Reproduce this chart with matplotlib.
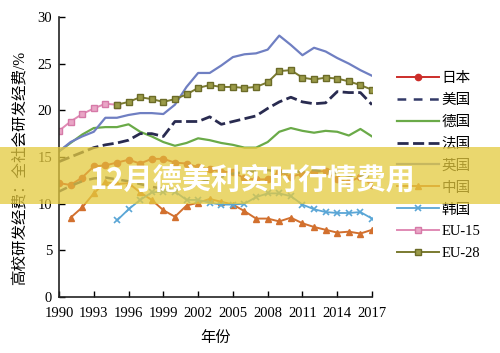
import numpy as np
import matplotlib
matplotlib.use("Agg")
import matplotlib.pyplot as plt
from matplotlib.patches import Rectangle

plt.rcParams['font.family'] = ['Liberation Serif', 'Noto Sans CJK SC', 'DejaVu Sans']

# DATA
years = list(range(1990, 2018))
years_china = list(range(1991, 2018))
years_korea = list(range(1995, 2018))
years_eu15 = list(range(1990, 1996))
years_eu28 = list(range(1995, 2018))

japan = [12.2, 12.0, 12.8, 14.0, 14.1, 14.4, 14.7, 14.3, 14.8, 14.8, 14.4, 14.3,
         13.9, 13.7, 13.4, 13.4, 12.7, 12.6, 12.6, 13.4, 12.9, 13.2, 13.4, 13.5,
         12.6, 12.3, 12.9, 12.0]
usa = [11.3, 11.9, 12.4, 12.7, 12.8, 12.6, 12.4, 12.1, 11.8, 11.6, 11.4, 11.6,
       12.2, 12.6, 12.9, 13.2, 13.4, 13.5, 13.6, 13.4, 13.3, 13.5, 13.6, 13.4,
       13.3, 13.0, 13.0, 12.9]
germany = [15.6, 16.5, 17.4, 18.1, 18.2, 18.2, 18.5, 17.7, 17.2, 16.6, 16.2, 16.5,
           17.0, 16.8, 16.5, 16.3, 16.0, 16.0, 16.6, 17.7, 18.1, 17.8, 17.6, 17.8,
           17.7, 17.3, 18.0, 17.2]
france = [14.5, 15.0, 15.5, 16.0, 16.3, 16.5, 16.8, 17.5, 17.5, 17.2, 18.8, 18.8,
          18.8, 19.3, 18.5, 18.8, 19.1, 19.4, 20.2, 20.9, 21.4, 20.9, 20.7, 20.8,
          22.0, 21.9, 21.9, 20.6]
uk = [15.6, 16.6, 17.2, 17.7, 19.2, 19.2, 19.5, 19.7, 19.7, 19.6, 20.6, 22.5,
      24.0, 24.0, 24.8, 25.7, 26.0, 26.1, 26.5, 28.0, 27.0, 25.9, 26.7, 26.3,
      25.6, 25.0, 24.3, 23.7]
china = [8.5, 9.6, 11.1, 12.3, 12.1, 12.2, 11.2, 10.4, 9.3, 8.6, 9.8,
         10.1, 10.5, 10.2, 9.9, 9.2, 8.4, 8.4, 8.1, 8.5, 7.9, 7.5, 7.2,
         6.9, 7.0, 6.8, 7.2]
korea = [8.2, 9.4, 10.4, 11.2, 11.3, 11.3, 10.4, 10.4, 10.1, 9.9, 9.9, 10.0,
         10.7, 11.1, 11.1, 10.8, 9.9, 9.4, 9.1, 9.0, 9.0, 9.1, 8.4]
eu15 = [17.8, 18.8, 19.6, 20.2, 20.7, 20.6]
eu28 = [20.6, 20.9, 21.4, 21.2, 20.9, 21.2, 21.7, 22.4, 22.7, 22.5, 22.5, 22.4,
        22.5, 23.0, 24.2, 24.3, 23.5, 23.3, 23.5, 23.4, 23.1, 22.7, 22.2]

xticks = list(range(1990, 2018, 3))
yticks = [0, 5, 10, 15, 20, 25, 30]

fig = plt.figure(figsize=(5.0, 3.53), dpi=100)
ax = fig.add_axes([0.118, 0.1586, 0.626, 0.7934])

ax.plot(years, japan, color='#cc2e2a', lw=1.4, marker='o', ms=4.5, label='日本')
ax.plot(years, usa, color='#333a68', lw=1.8, dashes=(3.5, 3), label='美国')
ax.plot(years, germany, color='#6aaa48', lw=1.6, label='德国')
ax.plot(years, france, color='#292b50', lw=2.0, dashes=(4, 1.6), label='法国')
ax.plot(years, uk, color='#6f7fc2', lw=1.6, label='英国')
ax.plot(years_china, china, color='#d2702e', lw=1.4, marker='^', ms=5, label='中国')
ax.plot(years_korea, korea, color='#5aa6d6', lw=1.3, marker='x', ms=4.5, mew=1.2, label='韩国')
ax.plot(years_eu15, eu15, color='#e08ab4', lw=1.4, marker='s', ms=4.5,
        mfc='#e9a6c6', mec='#d67aa8', label='EU-15')
ax.plot(years_eu28, eu28, color='#7a7a30', lw=1.4, marker='s', ms=5,
        mfc='#9a9a48', mec='#6b6b28', label='EU-28')

ax.set_xlim(1990, 2017)
ax.set_ylim(0, 30)
ax.set_xticks(xticks)
ax.set_yticks(yticks)
ax.tick_params(direction='in', length=4, width=1, labelsize=10.5)
ax.tick_params(axis='x', pad=7)
ax.tick_params(axis='y', pad=5)
for s in ['top', 'right']:
    ax.spines[s].set_visible(False)
for s in ['left', 'bottom']:
    ax.spines[s].set_linewidth(1.2)
    ax.spines[s].set_color('#222222')

ax.set_xlabel('年份', fontsize=11, labelpad=8)
ax.set_ylabel('高校研发经费：全社会研发经费/%', fontsize=11.2, labelpad=7)
ax.yaxis.label.set_y(0.46)

ax.legend(loc='upper left', bbox_to_anchor=(1.06, 0.826), frameon=False,
          fontsize=10.5, handlelength=2.9, handletextpad=0.2, labelspacing=0.6,
          borderaxespad=0)

# translucent banner with title text
fig.add_artist(Rectangle((0, 0.422), 1, 0.161, transform=fig.transFigure,
                         facecolor='#e4ca3e', edgecolor='none', alpha=0.75, zorder=5))
fig.text(0.504, 0.492, '12月德美利实时行情费用', ha='center', va='center',
         color='white', fontsize=21, fontweight='bold',
         family=['Noto Sans CJK SC', 'DejaVu Sans'], zorder=6)

fig.savefig('out.png', dpi=100)
